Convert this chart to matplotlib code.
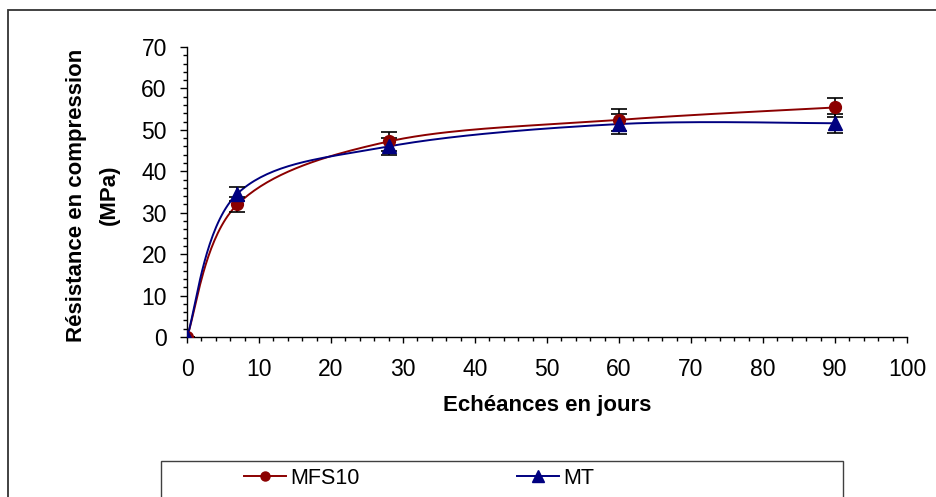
import numpy as np
import matplotlib.pyplot as plt
from matplotlib.lines import Line2D
from matplotlib.patches import Rectangle
from matplotlib.ticker import MultipleLocator

plt.rcParams['font.family'] = ['Liberation Sans', 'DejaVu Sans']

jours = [0, 7, 28, 60, 90]
mfs10 = [0, 32.0, 47.2, 52.4, 55.4]
mfs10_err = [0, 1.9, 2.2, 2.6, 2.3]
mt = [0, 34.6, 46.0, 51.4, 51.6]
mt_err = [0, 1.7, 2.0, 2.4, 2.3]


def smooth(x, y, n=40):
    # excel-like smoothed line (bezier through the points)
    p = np.column_stack([x, y]).astype(float)
    p = np.vstack([p[0], p, p[-1]])
    t = np.linspace(0, 1, n)[:, None]
    out = []
    for i in range(1, len(p) - 2):
        a = p[i]
        d = p[i + 1]
        b = a + (p[i + 1] - p[i - 1]) / 6
        c = d - (p[i + 2] - p[i]) / 6
        seg = (1 - t) ** 3 * a + 3 * (1 - t) ** 2 * t * b + 3 * (1 - t) * t ** 2 * c + t ** 3 * d
        out.append(seg)
    out = np.vstack(out)
    return out[:, 0], out[:, 1]


red = '#8B0000'
blue = '#000080'

fig = plt.figure(figsize=(9.36, 4.97), dpi=100)
ax = fig.add_axes([187 / 936, 1 - 337 / 497, 720 / 936, 290 / 497])

sx, sy = smooth(jours, mfs10)
ax.plot(sx, sy, color=red, lw=1.4, zorder=2)
sx, sy = smooth(jours, mt)
ax.plot(sx, sy, color=blue, lw=1.4, zorder=2)

ax.errorbar(jours, mfs10, yerr=mfs10_err, fmt='none', ecolor='black', elinewidth=1.2,
            capsize=5.5, capthick=1.2, zorder=3)
ax.errorbar(jours, mt, yerr=mt_err, fmt='none', ecolor='black', elinewidth=1.2,
            capsize=5.5, capthick=1.2, zorder=3)
ax.plot(jours, mfs10, 'o', color=red, ms=8.5, zorder=4)
ax.plot(jours, mt, '^', color=blue, ms=9.5, zorder=5)

ax.set_xlim(0, 100)
ax.set_ylim(0, 70)
ax.xaxis.set_major_locator(MultipleLocator(10))
ax.xaxis.set_minor_locator(MultipleLocator(2))
ax.yaxis.set_major_locator(MultipleLocator(10))
ax.yaxis.set_minor_locator(MultipleLocator(2))
ax.spines['top'].set_visible(False)
ax.spines['right'].set_visible(False)
ax.spines['left'].set_linewidth(1.0)
ax.spines['bottom'].set_linewidth(1.0)
ax.tick_params(axis='x', which='major', length=4.5, width=1, pad=10.5, labelsize=16.5)
ax.tick_params(axis='x', which='minor', length=3.2, width=1)
ax.tick_params(axis='y', which='major', length=5, width=1, pad=9.5, labelsize=16.5)
ax.tick_params(axis='y', which='minor', length=3, width=1)
ax.patch.set_alpha(0)

fig.text(547 / 936, 1 - 405 / 497, 'Echéances en jours', ha='center', va='center',
         fontsize=16, fontweight='bold')
fig.text(93 / 936, 1 - 195 / 497, 'Résistance en compression\n(MPa)', ha='center', va='center',
         rotation=90, fontsize=16, fontweight='bold', linespacing=1.7, multialignment='center')

# outer frame and legend box
fig.patches.append(Rectangle((8 / 936, -0.1), 1.2, 1 - 10 / 497 + 0.1, transform=fig.transFigure,
                             fill=False, edgecolor='#333333', lw=1.3, clip_on=False))
fig.patches.append(Rectangle((161 / 936, -0.1), (843 - 161) / 936, 1 - 461 / 497 + 0.1,
                             transform=fig.transFigure, fill=False, edgecolor='#404040', lw=1.0))

handles = [Line2D([], [], color=red, marker='o', ms=6.5, lw=1.4),
           Line2D([], [], color=blue, marker='^', ms=8.5, lw=1.4)]
fig.legend(handles, ['MFS10', 'MT'], loc='center left', bbox_to_anchor=(244 / 936, 1 - 478 / 497),
           ncol=2, frameon=False, fontsize=15.5, handlelength=1.95, handletextpad=0.2,
           columnspacing=7.3, borderpad=0, borderaxespad=0)

plt.savefig('out.png', dpi=100)
